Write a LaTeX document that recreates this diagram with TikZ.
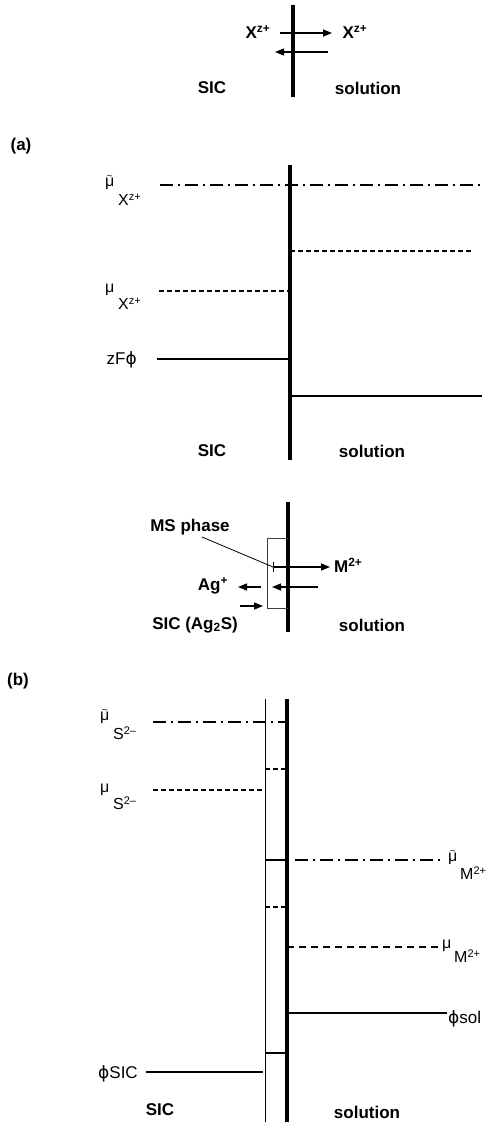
\documentclass[tikz,border=0pt]{standalone}
\usepackage{fontspec}
\setmainfont{Liberation Sans}
\newfontfamily\phifont{DejaVu Sans}
\newcommand\vphi{{\phifont ϕ}}
\newcommand\sups[1]{\raisebox{4.5pt}{\fontsize{11}{11}\selectfont #1}}
\usetikzlibrary{arrows.meta}
\tikzset{
  lbl/.style={font=\fontsize{17}{20}\selectfont\bfseries, inner sep=0pt},
  sym/.style={font=\fontsize{16}{18}\selectfont, inner sep=0pt},
  tl/.style={font=\fontsize{10}{10}\selectfont, inner sep=0pt, anchor=base},
  big/.style={font=\fontsize{17}{20}\selectfont, inner sep=0pt},
  iface/.style={line width=3.2pt},
  lev/.style={line width=1.4pt},
  dd/.style={lev, dash pattern=on 13pt off 5pt on 2pt off 5pt},
  ds/.style={lev, dash pattern=on 5pt off 3pt},
  ms/.style={line width=1pt, black!75},
  tip/.style={-{Triangle[length=9pt,width=7pt]}, line width=1.4pt},
}
\begin{document}
\begin{tikzpicture}[x=1pt,y=-1pt]
\useasboundingbox (0,0) rectangle (495,1125);

% ---------- top scheme ----------
\draw[iface] (293,5) -- (293,97);
\node[lbl] (xl) at (258,32) {X\textsuperscript{z+}};
\node[lbl] (xr) at (355,32) {X\textsuperscript{z+}};
\coordinate (a1s) at (280,33); \coordinate (a1e) at (332,33);
\coordinate (a2s) at (328,52); \coordinate (a2e) at (275,52);
\draw[tip] (a1s) -- (a1e);
\draw[tip] (a2s) -- (a2e);
\node[lbl] (sic0) at (212,88) {SIC};
\node[lbl] (sol0) at (368,88) {solution};

% ---------- (a) ----------
\node[lbl] (la) at (21,146) {(a)};
\draw[iface] (290,165) -- (290,460);
\draw[dd] (160,185) -- (483,185);
\draw[ds] (290,251) -- (473,251);
\draw[ds] (159,291) -- (290,291);
\draw[lev] (157,359) -- (290,359);
\draw[lev] (290,396) -- (482,396);
\node[sym, anchor=base west] (mua1) at (105,186) {μ};
\node[tl] (mua1t) at ([yshift=6.5pt]mua1.base) {\textasciitilde};
\node[sym, anchor=base west] (mua1s) at (118,205) {X\sups{z+}};
\node[sym, anchor=base west] (mua2) at (105,292) {μ};
\node[sym, anchor=base west] (mua2s) at (118,309) {X\sups{z+}};
\node[big, anchor=base east] (zf) at (137,364) {zF\vphi};
\node[lbl] (sica) at (212,451) {SIC};
\node[lbl] (sola) at (372,451) {solution};

% ---------- MS scheme ----------
\draw[iface] (288,502) -- (288,632);
\draw[ms] (288,538) -- (267,538) -- (267,608) -- (288,608);
\node[lbl] (msp) at (190,527) {MS phase};
\coordinate (tick) at (273,567);
\draw[line width=0.8pt] (202,537) -- (tick);
\draw[line width=1.4pt, {Bar[width=10pt]}-{Triangle[length=9pt,width=7pt]}] (tick) -- (330,567);
\node[lbl, anchor=west] (m2) at (334,565) {M\textsuperscript{2+}};
\draw[tip] (318,587) -- (272,587);
\draw[tip] (261,587) -- (238,587);
\node[lbl] (agp) at (213,586) {Ag\textsuperscript{+}};
\draw[tip] (240,606) -- (263,606);
\node[lbl] (sicag) at (195,625) {SIC (Ag\textsubscript{2}S)};
\node[lbl] (solm) at (372,625) {solution};

% ---------- (b) ----------
\node[lbl] (lb) at (18,681) {(b)};
\draw[line width=1pt] (265,699) -- (265,1122);
\draw[iface] (287,699) -- (287,1122);
\draw[dd] (153,722) -- (287,722);
\draw[ds] (265,769) -- (287,769);
\draw[ds] (153,790) -- (263,790);
\draw[lev] (265,860) -- (287,860);
\draw[dd] (295,860) -- (443,860);
\draw[ds] (265,907) -- (287,907);
\draw[lev, dash pattern=on 7pt off 5pt] (287,947) -- (438,947);
\draw[lev] (287,1013) -- (447,1013);
\draw[lev] (265,1053) -- (287,1053);
\draw[lev] (146,1072) -- (263,1072);

\node[sym, anchor=base west] (mub1) at (100,720) {μ};
\node[tl] (mub1t) at ([yshift=6.5pt]mub1.base) {\textasciitilde};
\node[sym, anchor=base west] (mub1s) at (113,739) {S\sups{2–}};
\node[sym, anchor=base west] (mub2) at (100,792) {μ};
\node[sym, anchor=base west] (mub2s) at (113,809) {S\sups{2–}};
\node[sym, anchor=base west] (mub3) at (448,861) {μ};
\node[tl] (mub3t) at ([yshift=6.5pt]mub3.base) {\textasciitilde};
\node[sym, anchor=base west] (mub3s) at (460,879) {M\sups{2+}};
\node[sym, anchor=base west] (mub4) at (442,948) {μ};
\node[sym, anchor=base west] (mub4s) at (454,962) {M\sups{2+}};
\node[big, anchor=base west] (phs) at (448,1023) {\vphi sol};
\node[big, anchor=base west] (phi) at (98,1078) {\vphi SIC};
\node[lbl] (sicb) at (160,1110) {SIC};
\node[lbl] (solb) at (367,1112) {solution};
\end{tikzpicture}
\end{document}
